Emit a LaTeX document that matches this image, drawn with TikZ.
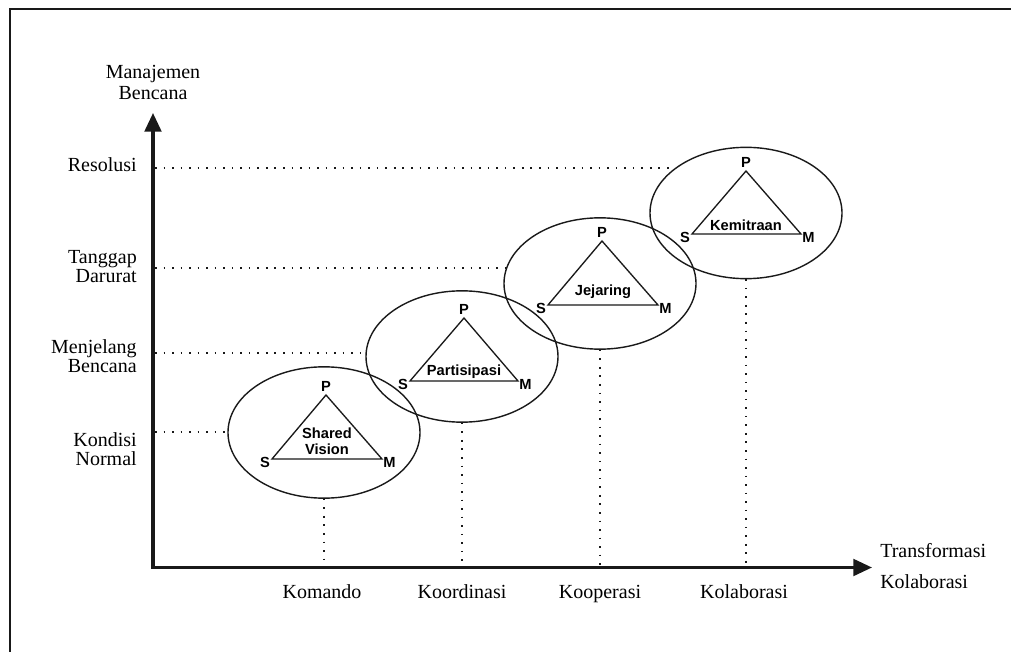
\documentclass[tikz,border=0pt]{standalone}
\usepackage{fontspec}
\setmainfont{Liberation Serif}
\setsansfont{Liberation Sans}
\usetikzlibrary{arrows.meta,shapes.geometric}

\begin{document}
\begin{tikzpicture}[x=0.75pt,y=-0.75pt,
  ink/.style={color=black!90},
  frameline/.style={ink, line width=1.5pt},
  axisline/.style={ink, line width=2.3pt,
    {Triangle[length=14pt,width=12.5pt]}-{Triangle[length=14pt,width=12.5pt]}},
  guide/.style={ink, line width=1pt, dash pattern=on 1.2pt off 5.2pt},
  zone/.style={ellipse, draw, ink, line width=1.05pt, inner sep=0pt,
    minimum width=144pt, minimum height=98.5pt},
  tri/.style={ink, line width=1pt, line join=miter},
  % multi-line labels are placed by the baseline of their last line
  lvl/.style={font=\fontsize{15}{14.6}\selectfont, inner sep=0pt, align=right, anchor=base east},
  cat/.style={font=\fontsize{15}{15.8}\selectfont, inner sep=0pt, align=center, anchor=base},
  corner/.style={font=\sffamily\bfseries\fontsize{11}{11}\selectfont, inner sep=0pt},
  stage/.style={font=\sffamily\bfseries\fontsize{11}{12}\selectfont, inner sep=0pt, align=center}]

\useasboundingbox (0,0) rectangle (1011,652);
\fill[white] (0,0) rectangle (1011,652);

% outer frame (left and top edges)
\draw[frameline] (9.5,660) -- (9.5,9.5) -- (1020,9.5);

% axes
\coordinate (origin) at (153,567.5);
\coordinate (ytip) at (153,113);
\coordinate (xtip) at (872,567.5);
\draw[axisline] (ytip) -- (origin) -- (xtip);

% axis titles
\node[cat] (ytitle) at (153,99.3) {Manajemen\\Bencana};
\node[cat, align=left, anchor=base west,
      font=\fontsize{15}{23.2}\selectfont] (xtitle) at (880,588) {Transformasi\\Kolaborasi};

% levels on the vertical axis
\node[lvl] (lres) at (137,171.7) {Resolusi};
\node[lvl] (ltan) at (137,283) {Tanggap\\Darurat};
\node[lvl] (lmen) at (137,372.7) {Menjelang\\Bencana};
\node[lvl] (lkon) at (137,465.7) {Kondisi\\Normal};

% stages on the horizontal axis
\node[cat] (skom) at (322,598) {Komando};
\node[cat] (skoo) at (462,598) {Koordinasi};
\node[cat] (skop) at (600,598) {Kooperasi};
\node[cat] (skol) at (744,598) {Kolaborasi};

% collaboration zones
\node[zone] (e1) at (324,432.5) {};
\node[zone] (e2) at (462,356.5) {};
\node[zone] (e3) at (600,283.5) {};
\node[zone] (e4) at (746,213) {};

% guide lines from the axes to the zones
\coordinate (gres) at (155,168);
\coordinate (gtan) at (155,268);
\coordinate (gmen) at (155,353);
\coordinate (gkon) at (155,432);
\draw[guide] (gres) -- (e4.148 |- gres);
\draw[guide] (gtan) -- (e3.171 |- gtan);
\draw[guide] (gmen) -- (e2.178 |- gmen);
\draw[guide] (gkon) -- (e1.west |- gkon);

\draw[guide] (e1.south) -- ([yshift=2pt]e1.south |- origin);
\draw[guide] (e2.south) -- ([yshift=2pt]e2.south |- origin);
\draw[guide] (e3.south) -- ([yshift=2pt]e3.south |- origin);
\draw[guide] (e4.south) -- ([yshift=2pt]e4.south |- origin);

% P-S-M triangles
\coordinate (t1p) at (326,395); \coordinate (t1s) at (272,459); \coordinate (t1m) at (382,459);
\coordinate (t2p) at (464,318); \coordinate (t2s) at (410,381); \coordinate (t2m) at (518,381);
\coordinate (t3p) at (602,241); \coordinate (t3s) at (548,305); \coordinate (t3m) at (658,305);
\coordinate (t4p) at (746,171); \coordinate (t4s) at (692,234); \coordinate (t4m) at (801,234);

\draw[tri] (t1p) -- (t1m) -- (t1s) -- cycle;
\draw[tri] (t2p) -- (t2m) -- (t2s) -- cycle;
\draw[tri] (t3p) -- (t3m) -- (t3s) -- cycle;
\draw[tri] (t4p) -- (t4m) -- (t4s) -- cycle;

\foreach \k in {1,2,3,4}{
  \node[corner, anchor=south] (p\k) at ([yshift=2.2pt]t\k p) {P};
  \node[corner] (s\k) at ([xshift=-5.3pt,yshift=-2.3pt]t\k s) {S};
  \node[corner] (m\k) at ([xshift=5.6pt,yshift=-2.3pt]t\k m) {M};
}

\node[stage] (n1) at (327,441) {Shared\\Vision};
\node[stage] (n2) at (464,371.5) {Partisipasi};
\node[stage] (n3) at (603,291.5) {Jejaring};
\node[stage] (n4) at (746,225.5) {Kemitraan};

\end{tikzpicture}
\end{document}
